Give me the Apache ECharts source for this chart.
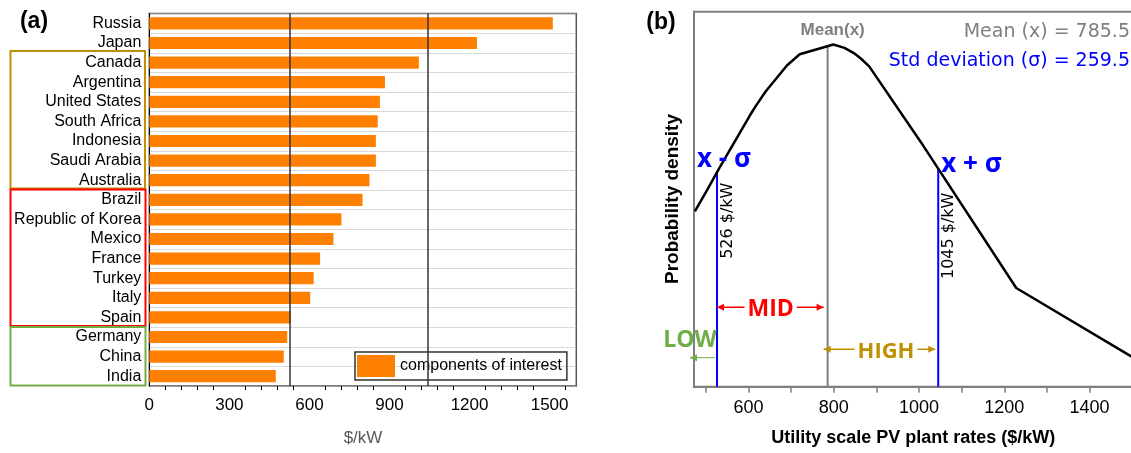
<!DOCTYPE html>
<html><head><meta charset="utf-8">
<script src="https://cdn.jsdelivr.net/npm/echarts@6/dist/echarts.min.js"></script>
<style>html,body{margin:0;padding:0;background:#fff}#c{width:1131px;height:453px}</style>
</head><body><div id="c"></div>
<script>
// ---------- data ----------
const countries = ['Russia','Japan','Canada','Argentina','United States','South Africa','Indonesia','Saudi Arabia','Australia','Brazil','Republic of Korea','Mexico','France','Turkey','Italy','Spain','Germany','China','India'];
const rates = [1512,1228,1010,883,864,856,849,849,825,799,720,690,640,616,603,531,517,504,474];
const barTicks = [0,300,600,900,1200,1500];
const thresholds = [526, 1045];
const meanRate = 785.5;
const stdRate = 259.5;
// probability density (units of 1e-5 per $/kW), one per country rate, ascending order of rate
const densityY = [74.8,85.3,90.0,95.0,120.0,124.2,131.3,143.6,148.9,153.5,151.9,149.2,149.2,148.1,146.8,143.2,105.7,38.6,4.6];
const pdfTicks = [600,800,1000,1200,1400];
const pdfRange = [472, 1512];
const densityRange = [-8, 169];

// ---------- helpers ----------
const SANS = '"Liberation Sans", Arial, sans-serif';
const pdfX = rates.slice().sort((a,b)=>a-b);
function densityAt(v){
  for (let i=0;i<pdfX.length-1;i++){
    if (v>=pdfX[i] && v<=pdfX[i+1]){
      if (pdfX[i+1]===pdfX[i]) return densityY[i];
      return densityY[i]+(densityY[i+1]-densityY[i])*(v-pdfX[i])/(pdfX[i+1]-pdfX[i]);
    }
  }
  return densityY[densityY.length-1];
}
const minorA = [];
for (let v=60; v<1600; v+=60) if (v%300!==0) minorA.push(v);
const tickB = [];
for (let v=500; v<=1500; v+=100) tickB.push(v);
const plain = v => String(v);

const chart = echarts.init(document.getElementById('c'), null, {renderer:'canvas'});
const option = {
  animation:false,
  grid:[
    {left:149.3, top:13.6, width:427, height:372.4, show:true, borderColor:'#555', borderWidth:1.5, outerBoundsMode:'none', containLabel:false},
    {left:694, top:11.7, width:443.3, height:375, show:true, borderColor:'#7f7f7f', borderWidth:2, outerBoundsMode:'none', containLabel:false}
  ],
  legend:{
    data:['components of interest'], left:355, top:352, icon:'rect',
    itemWidth:38, itemHeight:22, padding:[3,5,3,2], borderColor:'#333', borderWidth:1.5,
    textStyle:{fontSize:16, fontFamily:SANS, color:'#000'}
  },
  xAxis:[
    {gridIndex:0, type:'value', position:'bottom', min:0, max:1600, interval:300,
     axisLine:{onZero:false, lineStyle:{color:'#000', width:1}},
     axisTick:{length:6, lineStyle:{color:'#000'}},
     axisLabel:{customValues:barTicks, formatter:plain, fontSize:17, fontFamily:SANS, color:'#000', margin:11},
     splitLine:{show:false}},
    {gridIndex:0, type:'value', position:'bottom', min:0, max:1600,
     axisLine:{show:false, onZero:false}, axisLabel:{show:false},
     axisTick:{show:true, length:4, customValues:minorA, lineStyle:{color:'#000'}},
     splitLine:{show:false}},
    {gridIndex:1, type:'value', position:'bottom', min:pdfRange[0], max:pdfRange[1],
     axisLine:{onZero:false, lineStyle:{color:'#7f7f7f', width:2}},
     axisTick:{customValues:tickB, length:6, lineStyle:{color:'#7f7f7f', width:1.5}},
     axisLabel:{customValues:pdfTicks, formatter:plain, fontSize:18, fontFamily:SANS, color:'#000', margin:12},
     splitLine:{show:false}}
  ],
  yAxis:[
    {gridIndex:0, type:'category', inverse:true, data:countries,
     axisLine:{lineStyle:{color:'#000'}},
     axisTick:{length:3, lineStyle:{color:'#000'}},
     axisLabel:{interval:0, fontSize:16, fontFamily:SANS, color:'#000', margin:8},
     splitLine:{show:true, interval:0, lineStyle:{color:'#b5b5b5', type:'dotted', width:1}}},
    {gridIndex:1, type:'value', min:densityRange[0], max:densityRange[1],
     axisLine:{show:true, onZero:false, lineStyle:{color:'#7f7f7f', width:2}},
     axisTick:{show:false}, axisLabel:{show:false}, splitLine:{show:false}}
  ],
  series:[
    {type:'bar', name:'components of interest', xAxisIndex:0, yAxisIndex:0, data:rates,
     barCategoryGap:'38%', itemStyle:{color:'#FF8000'},
     markLine:{silent:true, symbol:['none','none'], label:{show:false},
       lineStyle:{color:'#333', width:1.5, type:'solid'},
       data:thresholds.map(v=>({xAxis:v}))}},
    {type:'line', name:'pdf', xAxisIndex:2, yAxisIndex:1, data:pdfX.map((x,i)=>[x,densityY[i]]),
     symbol:'none', lineStyle:{color:'#000', width:2.5}, z:4},
    {type:'line', name:'mean', xAxisIndex:2, yAxisIndex:1,
     data:[[meanRate,densityRange[0]],[meanRate,densityAt(meanRate)]],
     symbol:'none', lineStyle:{color:'#808080', width:2}, z:3},
    {type:'line', name:'lo', xAxisIndex:2, yAxisIndex:1,
     data:[[thresholds[0],densityRange[0]],[thresholds[0],densityAt(thresholds[0])]],
     symbol:'none', lineStyle:{color:'#0000ff', width:2}, z:3},
    {type:'line', name:'hi', xAxisIndex:2, yAxisIndex:1,
     data:[[thresholds[1],densityRange[0]],[thresholds[1],densityAt(thresholds[1])]],
     symbol:'none', lineStyle:{color:'#0000ff', width:2}, z:3}
  ]
};
chart.setOption(option);

const px = v => chart.convertToPixel({xAxisIndex:2}, v);
function head(xTip, y, dir, color){
  const L=7, W=3.5;
  return {type:'polygon', shape:{points:[[xTip,y],[xTip-dir*L,y-W],[xTip-dir*L,y+W]]}, style:{fill:color}, z:10};
}
function seg(x1,x2,y,color,w){
  return {type:'line', shape:{x1:x1,y1:y,x2:x2,y2:y}, style:{stroke:color, lineWidth:w}, z:10};
}
function txt(t, x, y, font, fill, align, extra){
  return Object.assign({type:'text', x:x, y:y, z:12,
    style:Object.assign({text:t, font:font, fill:fill, align:align||'center', verticalAlign:'middle'}, extra||{})});
}
const RED='#ff0000', GOLD='#BF9000', GREEN='#70AD47', BLUE='#0000ff';
const xLo = px(thresholds[0]), xHi = px(thresholds[1]), xMean = px(meanRate), xMin = px(pdfRange[0]);
const midY = 307.3, highY = 349.3, lowY = 357.7;
const graphics = [
  // group boxes (a)
  {type:'rect', shape:{x:10.5, y:51, width:134.5, height:137.5}, style:{fill:'none', stroke:GOLD, lineWidth:2}},
  {type:'rect', shape:{x:10.5, y:189.5, width:135, height:136.5}, style:{fill:'none', stroke:RED, lineWidth:2}},
  {type:'rect', shape:{x:10.5, y:327, width:135, height:58.5}, style:{fill:'none', stroke:GREEN, lineWidth:2}},
  txt('(a)', 34, 22, 'bold 23px "Liberation Sans", Arial', '#000'),
  txt('$/kW', 363, 438.5, '17px "Liberation Sans", Arial', '#595959'),
  // panel (b)
  txt('(b)', 661, 23, 'bold 23px "Liberation Sans", Arial', '#000'),
  txt('Mean(x)', xMean + 5, 30, 'bold 17px "Liberation Sans", Arial', '#7f7f7f'),
  txt('Mean (x) = ' + meanRate, 1130, 31.7, '19px "DejaVu Sans"', '#7f7f7f', 'right'),
  txt('Std deviation (\u03c3) = ' + stdRate, 1130, 61, '19px "DejaVu Sans"', BLUE, 'right'),
  txt('x - \u03c3', 697, 160, 'bold 26px "Open Sans"', BLUE, 'left'),
  txt('x + \u03c3', xHi + 3, 165, 'bold 26px "Open Sans"', BLUE, 'left'),
  {type:'text', x:xLo + 10.5, y:220.7, rotation:Math.PI/2, z:12,
   style:{text:thresholds[0] + ' $/kW', font:'16px "DejaVu Sans"', fill:'#000', align:'center', verticalAlign:'middle'}},
  {type:'text', x:xHi + 11, y:235.8, rotation:Math.PI/2, z:12,
   style:{text:thresholds[1] + ' $/kW', font:'16px "DejaVu Sans"', fill:'#000', align:'center', verticalAlign:'middle'}},
  {type:'text', x:673, y:199, rotation:Math.PI/2, z:12,
   style:{text:'Probability density', font:'bold 19px "Liberation Sans", Arial', fill:'#000', align:'center', verticalAlign:'middle'}},
  txt('Utility scale PV plant rates ($/kW)', 913.3, 438.3, 'bold 18px "Liberation Sans", Arial', '#000'),
  // MID arrow
  seg(xLo, xMean - 4, midY, RED, 1.5), head(xLo, midY, -1, RED), head(xMean - 4, midY, 1, RED),
  txt('MID', 770.7, 309, 'bold 23px "Open Sans"', RED, 'center', {backgroundColor:'#fff', padding:[0,3]}),
  // HIGH arrow
  seg(xMean - 4, xHi - 3, highY, GOLD, 1.5), head(xMean - 4, highY, -1, GOLD), head(xHi - 3, highY, 1, GOLD),
  txt('HIGH', 886, 351.7, 'bold 22px "Open Sans"', GOLD, 'center', {backgroundColor:'#fff', padding:[0,3]}),
  // LOW arrow
  seg(xLo - 2, xMin - 4, lowY, GREEN, 1), head(xMin - 4, lowY, -1, GREEN),
  txt('LOW', 690, 340, 'bold 23px "Open Sans"', GREEN)
];
chart.setOption({graphic:graphics});
</script>
</body></html>
